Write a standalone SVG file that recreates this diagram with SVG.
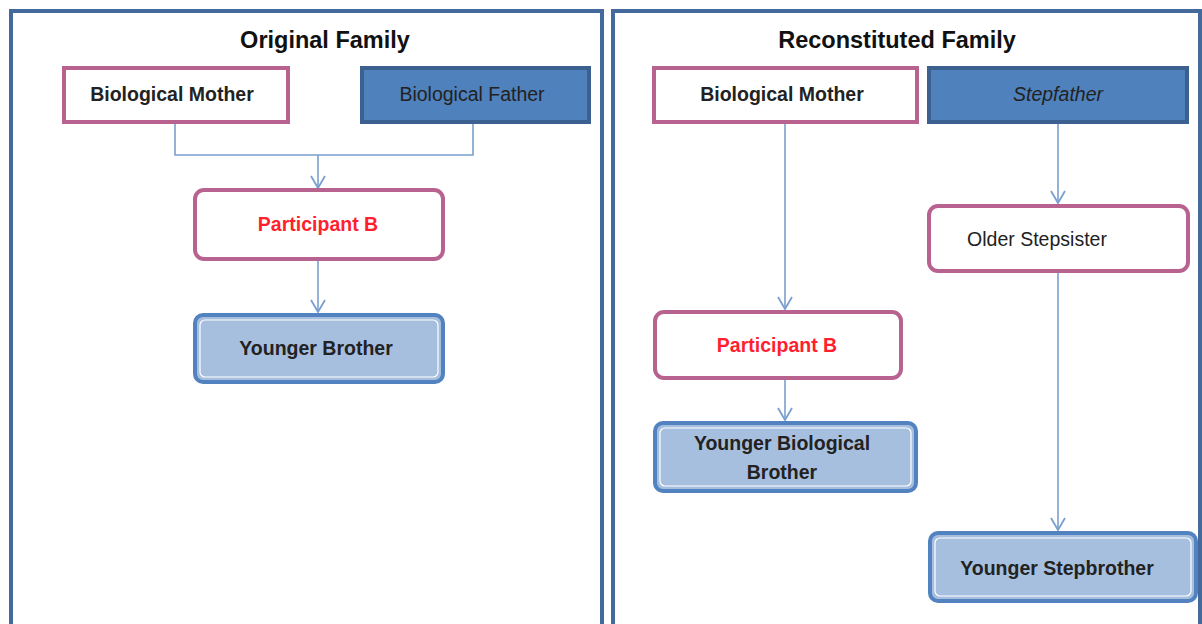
<svg xmlns="http://www.w3.org/2000/svg" width="1202" height="624" viewBox="0 0 1202 624">
<defs>
<style>
.panel{fill:#ffffff;stroke:#44699b;stroke-width:4}
.title{font-family:"Liberation Sans",Arial,sans-serif;font-weight:bold;font-size:23.5px;fill:#111;text-anchor:middle}
.lbl{font-family:"Liberation Sans",Arial,sans-serif;font-size:19.5px;fill:#222;text-anchor:middle}
.b{font-weight:bold}
.red{fill:#ff1f2f}
.mom{fill:#ffffff;stroke:#b8628f;stroke-width:4}
.dad{fill:#4f81bd;stroke:#3c6190;stroke-width:4}
.pink{fill:#ffffff;stroke:#b8628f;stroke-width:4}
.sib{fill:#a7bfde;stroke:#5283c0;stroke-width:4}
.inner{fill:none;stroke:#ffffff;stroke-width:1.2}
.conn{fill:none;stroke:#7a9fcf;stroke-width:1.6}
</style>
<marker id="arr" viewBox="0 0 14 16" refX="13" refY="8" markerWidth="14" markerHeight="16" markerUnits="userSpaceOnUse" orient="auto">
<path d="M1,1 L13,8 L1,15" fill="none" stroke="#7a9fcf" stroke-width="1.8"/>
</marker>
</defs>
<rect width="1202" height="624" fill="#ffffff"/>
<g id="panel-original">
<rect class="panel" x="11" y="11" width="591" height="640"/>
<text class="title" x="325" y="48">Original Family</text>
</g>
<g id="panel-reconstituted">
<rect class="panel" x="613" y="11" width="587" height="640"/>
<text class="title" x="897" y="48">Reconstituted Family</text>
</g>
<g id="connectors">
<path class="conn" d="M175,122 V155 H473 V122"/>
<path class="conn" d="M318,155 V188" marker-end="url(#arr)"/>
<path class="conn" d="M318,260 V312" marker-end="url(#arr)"/>
<path class="conn" d="M785,122 V309" marker-end="url(#arr)"/>
<path class="conn" d="M785,379 V420" marker-end="url(#arr)"/>
<path class="conn" d="M1058,122 V203" marker-end="url(#arr)"/>
<path class="conn" d="M1058,272 V530" marker-end="url(#arr)"/>
</g>
<g id="orig-mother">
<rect class="mom" x="64" y="68" width="224" height="54"/>
<text class="lbl b" x="172" y="101">Biological Mother</text>
</g>
<g id="orig-father">
<rect class="dad" x="362" y="68" width="227" height="54"/>
<text class="lbl" x="472" y="101">Biological Father</text>
</g>
<g id="orig-participant">
<rect class="pink" x="195" y="190" width="248" height="69" rx="9"/>
<text class="lbl b red" x="318" y="231">Participant B</text>
</g>
<g id="orig-brother">
<rect class="sib" x="195" y="315" width="248" height="67" rx="8"/>
<rect class="inner" x="200" y="320" width="238" height="57" rx="5"/>
<text class="lbl b" x="316" y="355">Younger Brother</text>
</g>
<g id="rec-mother">
<rect class="mom" x="654" y="68" width="263" height="54"/>
<text class="lbl b" x="782" y="101">Biological Mother</text>
</g>
<g id="rec-stepfather">
<rect class="dad" x="929" y="68" width="258" height="54"/>
<text class="lbl" x="1058" y="101" font-style="italic">Stepfather</text>
</g>
<g id="rec-stepsister">
<rect class="pink" x="929" y="206" width="259" height="65" rx="9"/>
<text class="lbl" x="1037" y="246">Older Stepsister</text>
</g>
<g id="rec-participant">
<rect class="pink" x="655" y="312" width="246" height="66" rx="9"/>
<text class="lbl b red" x="777" y="352">Participant B</text>
</g>
<g id="rec-brother">
<rect class="sib" x="655" y="423" width="261" height="68" rx="8"/>
<rect class="inner" x="660" y="428" width="251" height="58" rx="5"/>
<text class="lbl b" x="782" y="450">Younger Biological</text>
<text class="lbl b" x="782" y="479">Brother</text>
</g>
<g id="rec-stepbrother">
<rect class="sib" x="930" y="533" width="266" height="68" rx="8"/>
<rect class="inner" x="935" y="538" width="256" height="58" rx="5"/>
<text class="lbl b" x="1057" y="575">Younger Stepbrother</text>
</g>
</svg>
